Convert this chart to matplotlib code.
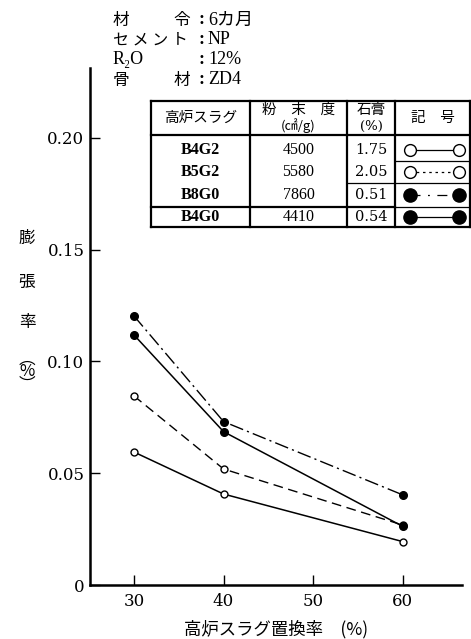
import matplotlib
matplotlib.use('Agg')
import matplotlib.pyplot as plt
from matplotlib.lines import Line2D

# ---------------- data ----------------
x_vals = [30, 40, 60]
b4g2 = [0.0595, 0.0407, 0.0194]
b5g2 = [0.0846, 0.0519, 0.0268]
b8g0 = [0.1204, 0.0731, 0.0403]
b4g0 = [0.1119, 0.0686, 0.0262]

slag_names = ['B4G2', 'B5G2', 'B8G0', 'B4G0']
fineness = ['4500', '5580', '7860', '4410']
gypsum = ['1.75', '2.05', '0.51', '0.54']

xticks = [30, 40, 50, 60]
xtick_labels = ['30', '40', '50', '60']
yticks = [0, 0.05, 0.10, 0.15, 0.20]
ytick_labels = ['0', '0.05', '0.10', '0.15', '0.20']

info_vals = ['6カ月', 'NP', '12%', 'ZD4']

JP = ['Noto Sans CJK JP', 'DejaVu Sans']
SER = ['DejaVu Serif', 'Noto Sans CJK JP']
TS = ['Liberation Serif', 'DejaVu Serif', 'Noto Sans CJK JP']

W, H = 471, 639
fig = plt.figure(figsize=(W / 100, H / 100), dpi=100)
fig.patch.set_facecolor('white')

ax_l, ax_r, ax_b, ax_t = 90, 462, 585, 68
ax = fig.add_axes([ax_l / W, (H - ax_b) / H, (ax_r - ax_l) / W, (ax_b - ax_t) / H])
ax.set_xlim(25.1, 66.6)
ax.set_ylim(0, 0.2313)

# series
ax.plot(x_vals, b4g2, color='black', lw=1.1, ls='-', marker='o', ms=5,
        mfc='white', mec='black', mew=1.0)
ax.plot(x_vals, b5g2, color='black', lw=1.0, ls=(0, (7, 4)), marker='o', ms=5,
        mfc='white', mec='black', mew=1.0)
ax.plot(x_vals, b8g0, color='black', lw=1.0, ls=(0, (10, 3, 1.5, 3)), marker='o', ms=5.5,
        mfc='black', mec='black')
ax.plot(x_vals, b4g0, color='black', lw=1.1, ls='-', marker='o', ms=5.5,
        mfc='black', mec='black')

for s in ['top', 'right']:
    ax.spines[s].set_visible(False)
for s in ['left', 'bottom']:
    ax.spines[s].set_linewidth(1.8)

ax.set_xticks(xticks)
ax.set_xticklabels(xtick_labels, family=SER, fontsize=12)
ax.set_yticks(yticks)
ax.set_yticklabels(ytick_labels, family=SER, fontsize=12)
ax.tick_params(axis='both', direction='in', length=7, width=1.0, colors='black')
ax.tick_params(axis='x', pad=6)
ax.tick_params(axis='y', pad=4)
ax.set_xlabel('高炉スラグ置換率　(%)', family=JP, fontsize=12.5, labelpad=7)

# ---------------- overlay (pixel coords) ----------------
ov = fig.add_axes([0, 0, 1, 1], zorder=5)
ov.set_xlim(0, W)
ov.set_ylim(H, 0)
ov.axis('off')

# y label, vertical
for ch, yy in zip(['膨', '張', '率'], [238, 282, 323]):
    ov.text(27, yy, ch, family=JP, fontsize=12, ha='center', va='center')
ov.text(27, 372, '︵\n%\n︶', family=JP, fontsize=12, ha='center', va='center',
        linespacing=0.7)

# info block
rows_y = [20, 40, 60, 80]
ov.text(113, rows_y[0], '材', family=JP, fontsize=12, ha='left', va='center')
ov.text(190, rows_y[0], '令', family=JP, fontsize=12, ha='right', va='center')
ov.text(113, rows_y[1], 'セ メ ン ト', family=JP, fontsize=11.5, ha='left', va='center')
ov.text(113, rows_y[2], 'R₂O', family=TS, fontsize=13, ha='left', va='center')
ov.text(113, rows_y[3], '骨', family=JP, fontsize=12, ha='left', va='center')
ov.text(190, rows_y[3], '材', family=JP, fontsize=12, ha='right', va='center')
for yy, v in zip(rows_y, info_vals):
    ov.text(198, yy, ':', family=TS, fontsize=13, ha='left', va='center', weight='bold')
    ov.text(208, yy, v, family=TS, fontsize=13, ha='left', va='center')

# table geometry
tl, c1, c2, c3, tr = 151, 250, 347, 395, 470
t_top, t_hdr, t_bot = 101, 135, 227
row_y = [150, 172, 195, 217]
thick, thin = 1.6, 0.9

def hl(y, x0, x1, lw, ls='-'):
    ov.add_line(Line2D([x0, x1], [y, y], color='black', lw=lw, ls=ls))

def vl(x, y0, y1, lw, ls='-'):
    ov.add_line(Line2D([x, x], [y0, y1], color='black', lw=lw, ls=ls))

hl(t_top, tl, tr, thick)
hl(t_hdr, tl, tr, thick)
hl(t_bot, tl, tr, thick)
hl(207, tl, c3, thick)
hl(207, c3, tr, thin)
hl(183, c2, tr, thin)
hl(161, c3, tr, thin)
vl(tl, t_top, t_bot, thick)
vl(c1, t_top, t_bot, thick)
vl(c2, t_top, t_bot, thick)
vl(c3, t_top, t_bot, thick)
vl(tr, t_top, t_bot, thick)

# header
ov.text((tl + c1) / 2, 118, '高炉スラグ', family=JP, fontsize=10.5, ha='center', va='center')
ov.text((c1 + c2) / 2, 110, '粉　末　度', family=JP, fontsize=10.5, ha='center', va='center')
ov.text((c1 + c2) / 2, 126, '(㎠/g)', family=JP, fontsize=9.5, ha='center', va='center')
ov.text((c2 + c3) / 2, 110, '石膏', family=JP, fontsize=10.5, ha='center', va='center')
ov.text((c2 + c3) / 2, 126, '(%)', family=SER, fontsize=9.5, ha='center', va='center')
ov.text((c3 + tr) / 2, 118, '記　号', family=JP, fontsize=10.5, ha='center', va='center')

sym_styles = [
    dict(ls='-', mfc='white', ms=8.5),
    dict(ls=(0, (2, 3)), mfc='white', ms=8.5),
    dict(ls=(0, (8, 6, 1.5, 6)), mfc='black', ms=9.5),
    dict(ls='-', mfc='black', ms=9.5),
]
for i in range(4):
    yy = row_y[i]
    ov.text((tl + c1) / 2, yy, slag_names[i], family=TS, fontsize=11.5, ha='center',
            va='center', weight='bold')
    ov.text((c1 + c2) / 2, yy, fineness[i], family=TS, fontsize=11.5, ha='center', va='center')
    ov.text((c2 + c3) / 2, yy, gypsum[i], family=SER, fontsize=10.5, ha='center', va='center')
    st = sym_styles[i]
    ov.add_line(Line2D([410, 459], [yy, yy], color='black', lw=0.9, ls=st['ls'],
                       marker='o', ms=st['ms'], mfc=st['mfc'], mec='black', mew=1.0))

fig.savefig('out.png', dpi=100, facecolor='white')
